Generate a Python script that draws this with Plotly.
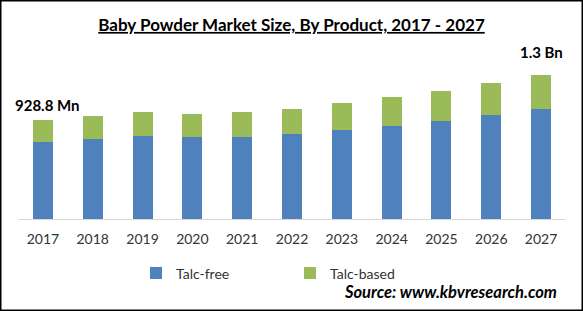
import plotly.graph_objects as go

years = ["2017", "2018", "2019", "2020", "2021", "2022", "2023", "2024", "2025", "2026", "2027"]
talc_free = [722, 751, 779, 769, 769, 800, 835, 875, 919, 979, 1032]
talc_based = [206.8, 218, 225, 216, 235, 232, 256, 270, 282, 297, 319]
series_names = ["Talc-free", "Talc-based"]
colors = ["#4F81BD", "#9BBB59"]
totals = [a + b for a, b in zip(talc_free, talc_based)]
first_label = "928.8 Mn"
last_label = "1.3 Bn"
title_text = "Baby Powder Market Size, By Product, 2017 - 2027"
source_text = "Source: www.kbvresearch.com"

W, H = 583, 311
ML, MR, MT, MB = 18, 17, 59, 92
PW, PH = W - ML - MR, H - MT - MB

fig = go.Figure()
for name, vals, c in zip(series_names, [talc_free, talc_based], colors):
    fig.add_trace(go.Bar(x=years, y=vals, name=name, marker=dict(color=c, line=dict(width=0))))

FONT = "Lato"
fig.update_layout(
    width=W, height=H,
    margin=dict(l=ML, r=MR, t=MT, b=MB, autoexpand=False),
    barmode="stack", bargap=0.6,
    paper_bgcolor="white", plot_bgcolor="white",
    font=dict(family=FONT, size=14, color="#333333"),
    title=dict(text=title_text, x=0.5, xanchor="center", y=1 - 25 / H, yanchor="middle",
               yref="container",
               font=dict(family=FONT, size=17, color="#000000", weight="bold", lineposition="under")),
    xaxis=dict(type="category", range=[-0.5, len(years) - 0.5], showline=True,
               linecolor="#D9D9D9", linewidth=1, ticks="", ticklabelstandoff=7, automargin=False,
               showgrid=False, tickfont=dict(family=FONT, size=14, color="#333333")),
    yaxis=dict(range=[0, 1500], visible=False, showgrid=False, zeroline=False, automargin=False),
    legend=dict(orientation="h", xref="container", yref="container",
                x=136 / W, xanchor="left", y=1 - 273.5 / H, yanchor="middle",
                entrywidth=109, entrywidthmode="pixels",
                font=dict(family=FONT, size=14, color="#333333"), traceorder="normal"),
    showlegend=True,
)

fig.add_annotation(x=0, y=totals[0], text=first_label, showarrow=False,
                   xshift=5, yshift=15, yanchor="middle",
                   font=dict(family=FONT, size=15, color="#000000", weight="bold"))
fig.add_annotation(x=len(years) - 1, y=totals[-1], text=last_label, showarrow=False,
                   yshift=23, yanchor="middle",
                   font=dict(family=FONT, size=15, color="#000000", weight="bold"))
fig.add_annotation(xref="paper", yref="paper", x=(559 - ML) / PW, y=(H - MB - 292) / PH,
                   xanchor="right", yanchor="middle", text="<b><i>" + source_text + "</i></b>",
                   showarrow=False, font=dict(family=FONT, size=16.5, color="#000000"))

fig.add_shape(type="rect", xref="paper", yref="paper",
              x0=-ML / PW, x1=1 + MR / PW, y0=-MB / PH, y1=1 + MT / PH,
              line=dict(color="#000000", width=3), fillcolor="rgba(0,0,0,0)", layer="above")

fig.write_html("out.html")
